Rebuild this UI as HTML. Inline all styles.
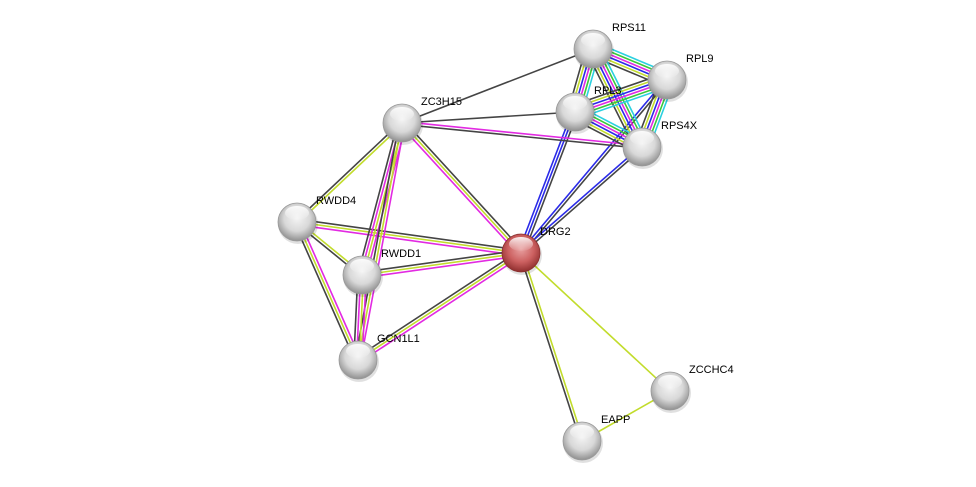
<!DOCTYPE html>
<html><head><meta charset="utf-8"><style>
html,body{margin:0;padding:0;background:#fff;width:976px;height:487px;overflow:hidden}
svg text{font-family:"Liberation Sans",sans-serif;font-size:11px;fill:#000}
</style></head><body>
<svg id="s" width="976" height="487" xmlns="http://www.w3.org/2000/svg">
<defs>
<radialGradient id="g" cx="50%" cy="40%" r="62%">
<stop offset="0" stop-color="#f4f4f4"/><stop offset="0.55" stop-color="#d8d8d8"/><stop offset="1" stop-color="#8a8a8a"/></radialGradient>
<radialGradient id="r" cx="50%" cy="40%" r="62%">
<stop offset="0" stop-color="#e8a0a0"/><stop offset="0.55" stop-color="#cc6060"/><stop offset="1" stop-color="#8a2a2a"/></radialGradient>
<linearGradient id="hl" x1="0" y1="0" x2="0" y2="1"><stop offset="0" stop-color="#fff" stop-opacity="0.9"/><stop offset="1" stop-color="#fff" stop-opacity="0.05"/></linearGradient>
</defs>
<g id="edges"></g><g id="nodes"></g>
</svg>
<script>
var N={RPS11:[593,49],RPL9:[667,80],RPL3:[575,112],RPS4X:[642,147],ZC3H15:[402,123],RWDD4:[297,222],DRG2:[521,253],RWDD1:[362,275],GCN1L1:[358,360],ZCCHC4:[670,391],EAPP:[582,441]};
var M="#e22ae2",Y="#c2dc2c",K="#444",B="#2a2ae8",C="#2ad0e0",G="#3ac83a",P="#9a4ae0";
var R=[C,G,M,B,Y,K];
var E=[["DRG2","ZC3H15",[M,Y,K]],["DRG2","RPL3",[B,B,K]],["DRG2","RPL9",[B,K]],["DRG2","RPS4X",[B,K]],
["DRG2","RWDD4",[M,Y,K]],["DRG2","RWDD1",[M,Y,K]],["DRG2","GCN1L1",[M,Y,K]],["DRG2","EAPP",[Y,K]],["DRG2","ZCCHC4",[Y]],["ZCCHC4","EAPP",[Y]],
["ZC3H15","RPS11",[K]],["ZC3H15","RPL3",[K]],["ZC3H15","RPS4X",[M,K]],["ZC3H15","RWDD4",[Y,K]],["ZC3H15","RWDD1",[M,Y,M,K]],["ZC3H15","GCN1L1",[M,Y,K]],
["RWDD4","RWDD1",[Y,K]],["RWDD4","GCN1L1",[M,Y,K]],["RWDD1","GCN1L1",[M,Y,M,K]],
["RPS11","RPL9",R],["RPS11","RPL3",R],["RPS11","RPS4X",R],["RPL9","RPL3",R],["RPL9","RPS4X",R],["RPL3","RPS4X",R]];
var ns="http://www.w3.org/2000/svg",eg=document.getElementById("edges"),ng=document.getElementById("nodes");
E.forEach(function(e){var a=N[e[0]],b=N[e[1]],c=e[2],dx=b[0]-a[0],dy=b[1]-a[1],l=Math.hypot(dx,dy),px=-dy/l,py=dx/l,n=c.length;
c.forEach(function(col,i){var o=(i-(n-1)/2)*2.8;var L=document.createElementNS(ns,"line");
L.setAttribute("x1",a[0]+px*o);L.setAttribute("y1",a[1]+py*o);L.setAttribute("x2",b[0]+px*o);L.setAttribute("y2",b[1]+py*o);
L.setAttribute("stroke",col);L.setAttribute("stroke-width","1.6");eg.appendChild(L);});});
for(var k in N){var p=N[k];
var s=document.createElementNS(ns,"circle");s.setAttribute("cx",p[0]+1);s.setAttribute("cy",p[1]+2);s.setAttribute("r",20);s.setAttribute("fill","#000");s.setAttribute("opacity","0.12");ng.appendChild(s);
var c=document.createElementNS(ns,"circle");c.setAttribute("cx",p[0]);c.setAttribute("cy",p[1]);c.setAttribute("r",19);c.setAttribute("fill",k=="DRG2"?"url(#r)":"url(#g)");c.setAttribute("stroke",k=="DRG2"?"#8a3030":"#999");c.setAttribute("stroke-width","0.8");ng.appendChild(c);
var h=document.createElementNS(ns,"ellipse");h.setAttribute("cx",p[0]);h.setAttribute("cy",p[1]-9);h.setAttribute("rx",12);h.setAttribute("ry",7);h.setAttribute("fill","url(#hl)");ng.appendChild(h);
var t=document.createElementNS(ns,"text");t.setAttribute("x",p[0]+19);t.setAttribute("y",p[1]-18);t.textContent=k;ng.appendChild(t);}
</script>
</body></html>
